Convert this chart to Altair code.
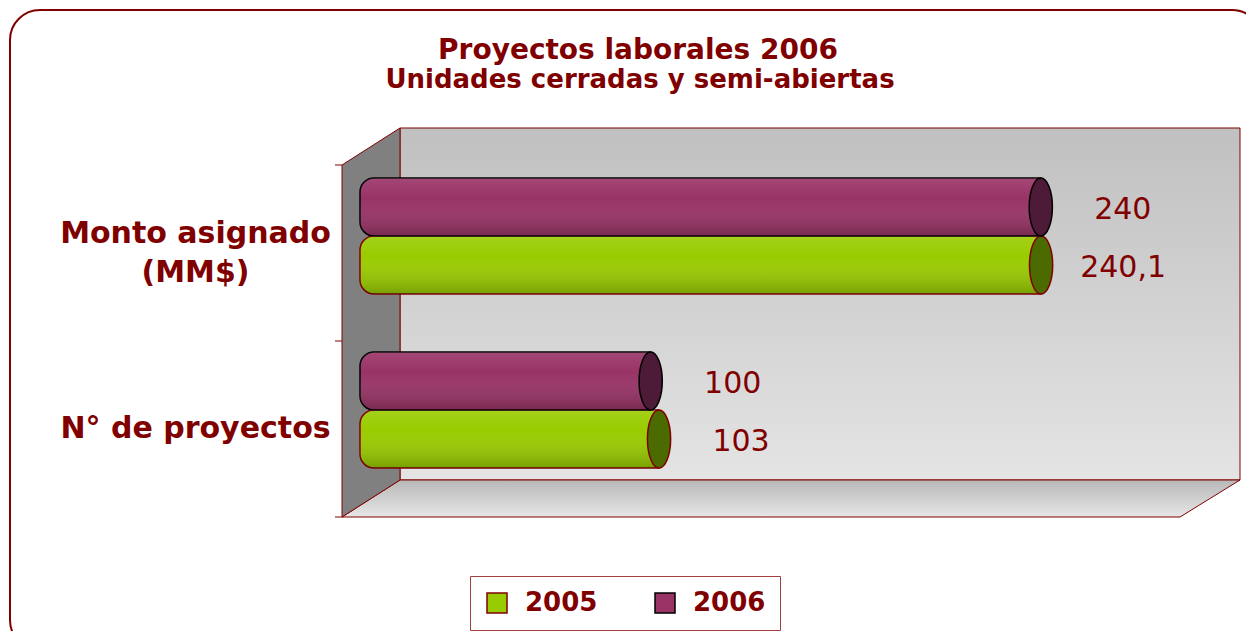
import altair as alt
import pandas as pd

# ---- data -------------------------------------------------------------
categorias = ["Monto asignado (MM$)", "N° de proyectos"]
series = ["2005", "2006"]
valores_2005 = [240.1, 103]
valores_2006 = [240, 100]
titulo = "Proyectos laborales 2006"
subtitulo = "Unidades cerradas y semi-abiertas"

rows = []
for i, c in enumerate(categorias):
    rows.append({"cat": c, "serie": "2005", "valor": valores_2005[i]})
    rows.append({"cat": c, "serie": "2006", "valor": valores_2006[i]})
df = pd.DataFrame(rows)

# ---- styles -----------------------------------------------------------
DARK_RED = "#800000"
GREEN = "#99CC00"
PURPLE = "#993366"
GREEN_CAP = "#4B6A00"
PURPLE_CAP = "#4D1A38"
FONT = "DejaVu Sans"

W, H = 898, 389

def grad(c0, c1):
    return alt.Gradient(
        gradient="linear",
        stops=[alt.GradientStop(color=c0, offset=0), alt.GradientStop(color=c1, offset=1)],
        x1=0, x2=0, y1=0, y2=1,
    )

overlay_grad = alt.Gradient(
    gradient="linear",
    stops=[
        alt.GradientStop(color="rgba(255,255,255,0.10)", offset=0),
        alt.GradientStop(color="rgba(255,255,255,0.0)", offset=0.35),
        alt.GradientStop(color="rgba(0,0,0,0.22)", offset=1),
    ],
    x1=0, x2=0, y1=0, y2=1,
)

ELLIPSE = "M 0 -1 A 0.4 1 0 1 1 0 1 A 0.4 1 0 1 1 0 -1 Z"

xscale = alt.Scale(domain=[0, 300], range=[30, 866], nice=False)
xenc = alt.X("valor:Q", scale=xscale, axis=None, stack=None)

yenc = alt.Y(
    "cat:N",
    sort=categorias,
    scale=alt.Scale(range=[21, 369], paddingInner=0, paddingOuter=0),
    axis=alt.Axis(
        title=None, domain=False, ticks=False, tickSize=0, grid=False,
        labelPadding=147, labelAlign="center", labelBaseline="middle",
        labelOffset={"condition": {"test": "indexof(datum.value, '(') > 0", "value": -2}, "value": 19},
        labelFont=FONT, labelFontWeight="bold",
        labelFontSize=30, labelColor=DARK_RED, labelLimit=400,
        labelLineHeight=39,
        labelExpr="indexof(datum.value, '(') > 0 ? [substring(datum.value, 0, indexof(datum.value, '(') - 1), substring(datum.value, indexof(datum.value, '('))] : datum.value",
    ),
)
yoff = alt.YOffset("serie:N", sort=["2006", "2005"],
                   scale=alt.Scale(paddingInner=0, paddingOuter=0.5))

leg = dict(
    orient="none", legendX=128, legendY=448, direction="horizontal", title=None,
    labelFont=FONT, labelFontWeight="bold", labelFontSize=26, labelColor=DARK_RED,
    symbolType="square", symbolSize=400, symbolStrokeWidth=1.5, symbolOpacity=1,
    padding=14, strokeColor="#A04040", fillColor="white",
    columnPadding=54, labelOffset=15,
)

deco = alt.Data(values=[{}])

border = alt.Chart(deco).mark_rect(
    cornerRadius=30, fillOpacity=0, stroke=DARK_RED, strokeWidth=2
).encode(x=alt.value(-332), x2=alt.value(920), y=alt.value(-118), y2=alt.value(522))

title_txt = alt.Chart(deco).mark_text(
    align="center", baseline="alphabetic", font=FONT, fontSize=28,
    fontWeight="bold", color=DARK_RED,
).encode(x=alt.value(296), y=alt.value(-69), text=alt.value(titulo))

subtitle_txt = alt.Chart(deco).mark_text(
    align="center", baseline="alphabetic", font=FONT, fontSize=26,
    fontWeight="bold", color=DARK_RED,
).encode(x=alt.value(298), y=alt.value(-40), text=alt.value(subtitulo))

back_wall = alt.Chart(deco).mark_rect(
    fill=grad("#C0C0C0", "#E4E4E4"), stroke=DARK_RED, strokeWidth=1
).encode(x=alt.value(58), x2=alt.value(W), y=alt.value(0), y2=alt.value(352))

floor = alt.Chart(deco).mark_point(
    shape="M 58 352 L 898 352 L 838 389 L 0 389 Z", size=4, filled=True,
    fill=grad("#B8B8B8", "#E6E6E6"), stroke=DARK_RED, strokeWidth=1, opacity=1,
).encode(x=alt.value(0), y=alt.value(0))

left_wall = alt.Chart(deco).mark_point(
    shape="M 0 37 L 58 0 L 58 352 L 0 389 Z", size=4, filled=True,
    fill="#808080", stroke=DARK_RED, strokeWidth=1, opacity=1,
).encode(x=alt.value(0), y=alt.value(0))

ticks = alt.Chart(deco).mark_point(
    shape="M -7 37 L 0 37 M -7 213 L 0 213 M -7 389 L 0 389",
    size=4, filled=False, stroke=DARK_RED, strokeWidth=1, opacity=1,
).encode(x=alt.value(0), y=alt.value(0))

base = alt.Chart(df)

bars = base.mark_bar(
    cornerRadiusTopLeft=14, cornerRadiusBottomLeft=14, strokeWidth=1.5
).encode(
    x=xenc, x2=alt.value(18), y=yenc, yOffset=yoff,
    color=alt.Color("serie:N", scale=alt.Scale(domain=series, range=[GREEN, PURPLE]),
                    legend=alt.Legend(**leg)),
    stroke=alt.Stroke("serie:N", scale=alt.Scale(domain=series, range=[DARK_RED, "#000000"]),
                      legend=alt.Legend(**leg)),
)

shade = base.mark_bar(
    cornerRadiusTopLeft=14, cornerRadiusBottomLeft=14,
    fill=overlay_grad, strokeWidth=0,
).encode(x=xenc, x2=alt.value(18), y=yenc, yOffset=yoff)

cap_2005 = base.transform_filter(alt.datum.serie == "2005").mark_point(
    shape=ELLIPSE, size=3364, filled=True, fill=GREEN_CAP, stroke=DARK_RED,
    strokeWidth=1.5, opacity=1,
).encode(x=xenc, y=yenc, yOffset=yoff)

cap_2006 = base.transform_filter(alt.datum.serie == "2006").mark_point(
    shape=ELLIPSE, size=3364, filled=True, fill=PURPLE_CAP, stroke="#000000",
    strokeWidth=1.5, opacity=1,
).encode(x=xenc, y=yenc, yOffset=yoff)

text = base.transform_calculate(
    etiqueta="replace(toString(datum.valor), '.', ',')"
).mark_text(
    align="center", baseline="middle", dx=82, dy=3, font=FONT, fontSize=30,
    color=DARK_RED,
).encode(x=xenc, y=yenc, yOffset=yoff, text="etiqueta:N")

chart = alt.layer(
    border, title_txt, subtitle_txt, back_wall, floor, left_wall, ticks,
    bars, shade, cap_2005, cap_2006, text
).properties(
    width=W, height=H,
    autosize=alt.AutoSizeParams(type="none"),
    padding={"left": 334, "top": 120, "right": 6, "bottom": 114},
).configure_view(
    stroke="transparent", strokeOpacity=0, strokeWidth=0, fill="transparent"
).configure(
    background="white",
    style={"cell": {"stroke": "transparent", "strokeWidth": 0}},
)

chart.save("out.html", embed_options={"renderer": "svg", "actions": False})
